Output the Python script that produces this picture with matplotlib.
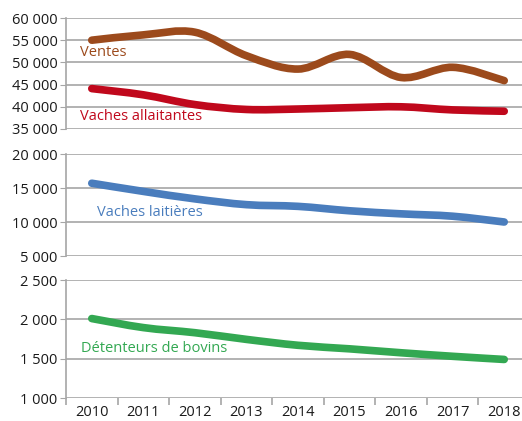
import matplotlib
matplotlib.use('Agg')
from matplotlib import pyplot as plt
from matplotlib.path import Path
from matplotlib.patches import PathPatch
from matplotlib.ticker import FuncFormatter, FixedLocator

plt.rcParams['font.family'] = ['Open Sans', 'DejaVu Sans']
plt.rcParams['font.size'] = 10

years = ["2010", "2011", "2012", "2013", "2014", "2015", "2016", "2017", "2018"]
ventes = [55000, 56200, 56800, 51500, 48500, 51800, 46600, 48900, 45900]
vaches_allaitantes = [44100, 42700, 40500, 39400, 39500, 39800, 40000, 39300, 39000]
vaches_laitieres = [15700, 14500, 13400, 12550, 12300, 11650, 11200, 10850, 10000]
detenteurs = [2010, 1895, 1830, 1745, 1670, 1625, 1575, 1530, 1490]

grid_color = '#a6a6a6'


def space_thousands(v, pos):
    return '{:,.0f}'.format(v).replace(',', ' ')


def smooth_line(ax, values, color):
    # Excel-like smoothed line: cubic bezier segments through the points
    x = list(range(len(values)))
    pts = list(zip(x, values))
    verts = [pts[0]]
    codes = [Path.MOVETO]
    for i in range(len(pts) - 1):
        p0 = pts[i - 1] if i > 0 else pts[i]
        p1 = pts[i]
        p2 = pts[i + 1]
        p3 = pts[i + 2] if i + 2 < len(pts) else pts[i + 1]
        c1 = (p1[0] + (p2[0] - p0[0]) / 6, p1[1] + (p2[1] - p0[1]) / 6)
        c2 = (p2[0] - (p3[0] - p1[0]) / 6, p2[1] - (p3[1] - p1[1]) / 6)
        verts += [c1, c2, p2]
        codes += [Path.CURVE4] * 3
    patch = PathPatch(Path(verts, codes), facecolor='none', edgecolor=color,
                      lw=5.5, capstyle='round', joinstyle='round', zorder=3)
    ax.add_patch(patch)


def style_axis(ax, lo, hi, step):
    ax.set_xlim(-0.5, len(years) - 0.5)
    ax.set_ylim(lo, hi)
    ax.yaxis.set_major_locator(FixedLocator(list(range(lo, hi + 1, step))))
    ax.yaxis.set_major_formatter(FuncFormatter(space_thousands))
    ax.grid(axis='y', color=grid_color, lw=1.2)
    for s in ['top', 'right', 'bottom']:
        ax.spines[s].set_visible(False)
    ax.spines['left'].set_color(grid_color)
    ax.spines['left'].set_linewidth(1.2)
    ax.tick_params(axis='y', length=4, color=grid_color, labelsize=10.5, pad=2,
                   labelcolor='#1a1a1a')
    ax.set_axisbelow(True)


W, H = 522, 421
fig = plt.figure(figsize=(W / 100, H / 100), dpi=100)
left = 66 / W
right = 530 / W


def make_axes(top_px, bottom_px):
    return fig.add_axes([left, 1 - bottom_px / H, right - left, (bottom_px - top_px) / H])


ax1 = make_axes(18, 129)
ax2 = make_axes(154, 256)
ax3 = make_axes(280, 398)

style_axis(ax1, 35000, 60000, 5000)
style_axis(ax2, 5000, 20000, 5000)
style_axis(ax3, 1000, 2500, 500)

for ax in (ax1, ax2):
    ax.set_xticks([])

ax3.set_xticks([i - 0.5 for i in range(len(years) + 1)])
ax3.set_xticklabels([])
ax3.set_xticks(range(len(years)), minor=True)
ax3.set_xticklabels(years, minor=True)
ax3.tick_params(axis='x', which='major', length=5, color=grid_color, width=1.2)
ax3.tick_params(axis='x', which='minor', length=0, pad=5, labelsize=10.5,
                labelcolor='#1a1a1a')

smooth_line(ax1, ventes, '#9c4a1c')
smooth_line(ax1, vaches_allaitantes, '#c0081c')
smooth_line(ax2, vaches_laitieres, '#4a7dbd')
smooth_line(ax3, detenteurs, '#33a852')

fig.text(80 / W, 1 - 52 / H, 'Ventes', color='#9c4a1c', fontsize=10.5, va='center')
fig.text(80 / W, 1 - 117 / H, 'Vaches allaitantes', color='#c0081c', fontsize=10.5, va='center')
fig.text(97 / W, 1 - 212 / H, 'Vaches laitières', color='#4a7dbd', fontsize=10.5, va='center')
fig.text(81 / W, 1 - 348 / H, 'Détenteurs de bovins', color='#33a852', fontsize=10.5, va='center')

fig.savefig('out.png', dpi=100)
